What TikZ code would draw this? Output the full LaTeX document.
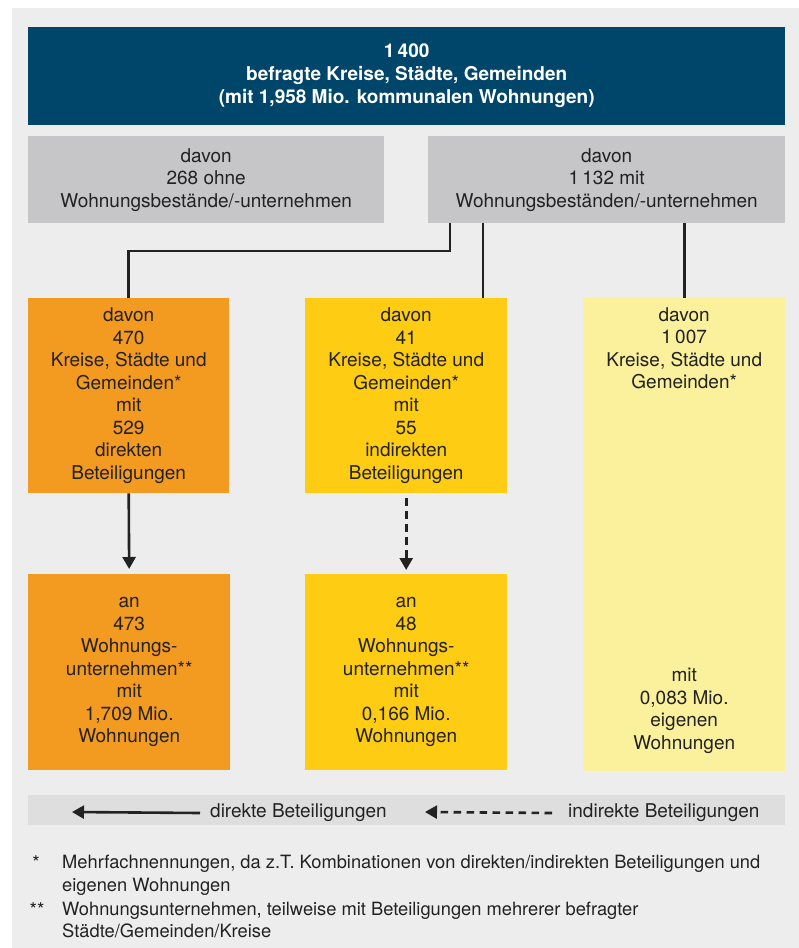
\documentclass[tikz,border=0pt]{standalone}
\usepackage{fontspec}
\setmainfont{TeX Gyre Heros}
\usepackage{tikz}
\usetikzlibrary{arrows.meta, calc}
\definecolor{hgrund}{HTML}{EDEDED}
\definecolor{dunkelblau}{HTML}{00466A}
\definecolor{kastengrau}{HTML}{C6C6C8}
\definecolor{orange1}{HTML}{F39A21}
\definecolor{gelb1}{HTML}{FECC12}
\definecolor{gelb2}{HTML}{FBF09B}
\definecolor{leggrau}{HTML}{DEDEDF}
\definecolor{schrift}{HTML}{222222}

\begin{document}
\begin{tikzpicture}[x=1pt, y=-1pt,
  every node/.style={font=\fontsize{19}{22.5}\selectfont, text=schrift, align=center, inner sep=0pt},
  kasten/.style={anchor=north west, minimum width=202pt, minimum height=196pt},
  linie/.style={line width=2.6pt, draw=schrift},
  pfeil/.style={linie, -{Triangle[length=12pt, width=13pt]}},
  gestrichelt/.style={dash pattern=on 7.5pt off 5.5pt}]
  \useasboundingbox (0,0) rectangle (799,948);
  \fill[hgrund] (12,8) rectangle (799,948);
  \node[anchor=north west, fill=dunkelblau, text=white, minimum width=757pt, minimum height=98pt, font=\fontsize{19}{23}\selectfont\bfseries] (gesamt) at (28,27) {1\,400\\befragte Kreise, Städte, Gemeinden\\(mit 1,958 Mio. kommunalen Wohnungen)\\[-17pt]\mbox{}};
  \node[anchor=north west, fill=kastengrau, minimum width=356pt, minimum height=87pt] (ohne) at (28,136) {davon\\268 ohne\\Wohnungsbestände/-unternehmen};
  \node[anchor=north west, fill=kastengrau, minimum width=357pt, minimum height=87pt] (mit) at (428,136) {davon\\1\,132 mit\\Wohnungsbeständen/-unternehmen};
  \node[kasten, fill=orange1, minimum width=201pt, minimum height=195pt] (dir) at (28,298) {davon\\470\\Kreise, Städte und\\Gemeinden*\\mit\\529\\direkten\\Beteiligungen};
  \node[kasten, fill=gelb1, minimum height=195pt] (indir) at (305,298) {davon\\41\\Kreise, Städte und\\Gemeinden*\\mit\\55\\indirekten\\Beteiligungen};
  \node[kasten, fill=gelb2, minimum height=473pt] (eigen) at (583,298) {};
  \node[anchor=north, yshift=-9pt] (eigenoben) at (eigen.north) {davon\\1\,007\\Kreise, Städte und\\Gemeinden*};
  \node[anchor=south, yshift=18pt] (eigenunten) at (eigen.south) {mit\\0,083 Mio.\\eigenen\\Wohnungen};
  \node[kasten, fill=orange1] (dirwu) at (28,574) {an\\473\\Wohnungs-\\unternehmen**\\mit\\1,709 Mio.\\Wohnungen};
  \node[kasten, fill=gelb1] (indirwu) at (305,574) {an\\48\\Wohnungs-\\unternehmen**\\mit\\0,166 Mio.\\Wohnungen};
  \coordinate (knick) at (450,251);
  \coordinate (abzw) at (483,0);
  \draw[linie] (mit.south -| knick) -- (knick) -| (dir.north);
  \draw[linie] (mit.south -| abzw) -- (indir.north -| abzw);
  \draw[linie] (mit.south -| eigen.north) -- (eigen.north);
  \draw[pfeil, shorten >=5pt] (dir.south) -- (dirwu.north);
  \draw[pfeil, gestrichelt, shorten <=5pt, shorten >=4pt] (indir.south) -- (indirwu.north);
  \node[anchor=north west, fill=leggrau, minimum width=757pt, minimum height=30pt] (legende) at (28,795) {};
  \node[anchor=west] (ldirtext) at (210,813) {direkte Beteiligungen};
  \node[anchor=west] (lindirtext) at (568,813) {indirekte Beteiligungen};
  \coordinate (ldir) at (72,812);
  \coordinate (lindir) at (425,812);
  \draw[pfeil] ([xshift=-10pt]ldirtext.west) -- (ldir);
  \draw[pfeil, gestrichelt] ([xshift=-16pt]lindirtext.west) -- (lindir);
  \node[anchor=base] (stern1) at (36,869) {*};
  \node[anchor=base] (stern2) at (37,916) {**};
  \node[anchor=north west, align=left, font=\fontsize{18.3}{22.5}\selectfont] (fn1) at (62,855) {Mehrfachnennungen, da z.T. Kombinationen von direkten/indirekten Beteiligungen und\\eigenen Wohnungen};
  \node[anchor=north west, align=left, font=\fontsize{18.3}{21.5}\selectfont] (fn2) at (62,902) {Wohnungsunternehmen, teilweise mit Beteiligungen mehrerer befragter\\Städte/Gemeinden/Kreise};
\end{tikzpicture}
\end{document}
